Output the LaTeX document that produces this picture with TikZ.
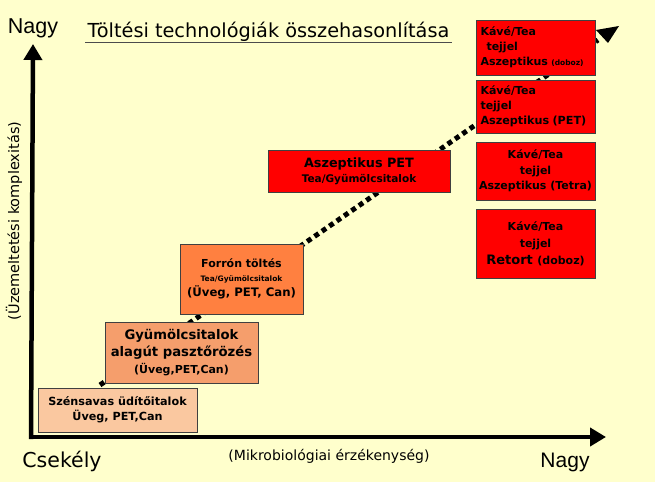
\documentclass[tikz,border=0pt]{standalone}
\usepackage{fontspec}
\setmainfont{DejaVu Sans}
\newfontfamily\arialf{Liberation Sans}
\usetikzlibrary{arrows.meta}
\definecolor{bgyellow}{RGB}{255,255,204}
\definecolor{peach}{RGB}{250,200,160}
\definecolor{salmon}{RGB}{245,158,108}
\definecolor{orangebox}{RGB}{255,128,64}
\definecolor{redbox}{RGB}{255,0,0}
\newcommand{\fs}[1]{\fontsize{#1}{#1}\selectfont}
\tikzset{
  box/.style={draw=black!75, line width=0.7pt, rectangle, inner sep=0pt, align=center, font=\bfseries},
  redb/.style={box, fill=redbox},
  axis/.style={line width=4.5pt, -{Triangle[length=16pt,width=18pt]}},
  trend/.style={line width=5pt, dash pattern=on 5pt off 4pt},
}
\begin{document}
\begin{tikzpicture}[x=1pt,y=-1pt]
\useasboundingbox (0,0) rectangle (660,492);
\fill[bgyellow] (0,0) rectangle (655,482);

% trend line (behind boxes)
\coordinate (ts) at (100,385);
\coordinate (te) at (598,40);
\draw[trend] (ts) -- (te);
\fill (596,30) -- (619,26) -- (608,43) -- cycle;

% axes
\coordinate (orig) at (33,437);
\coordinate (ytop) at (33,44);
\coordinate (xend) at (606,437);
\draw[axis] (31,439.2) -- (ytop);
\draw[axis] (30.8,437) -- (xend);

% axis labels
\node[font=\arialf\fs{21.5}] (nagyy) at (33,28) {Nagy};
\node[font=\fs{20.5}] (csek) at (62,461) {Csekély};
\node[font=\fs{14}] (mikro) at (329,456) {(Mikrobiológiai érzékenység)};
\node[font=\arialf\fs{21}] (nagyx) at (565,462) {Nagy};
\node[font=\fs{14.5}, rotate=90] (uzem) at (14,221) {(Üzemeltetési komplexitás)};

% title
\node[font=\fs{19.3}, anchor=base] (title) at (268.5,37.5) {Töltési technológiák összehasonlítása};
\draw[line width=0.8pt, black!70] (85,42.5) -- (452,42.5);

% boxes
\node[box, fill=peach, minimum width=159pt, minimum height=44pt] (b1) at (117.5,410)
  {\fs{11.2}Szénsavas üdítőitalok\\[3pt]\fs{11.2}Üveg, PET,Can};
\node[box, fill=salmon, minimum width=153pt, minimum height=61pt] (b2) at (181.5,352.5)
  {\fs{13.2}Gyümölcsitalok\\[3pt]\fs{13.2}alagút pasztőrözés\\[3pt]\fs{11}(Üveg,PET,Can)};
\node[box, fill=orangebox, minimum width=123pt, minimum height=70pt] (b3) at (241.5,279)
  {\fs{11}Forrón töltés\\[2pt]\fs{7.5}Tea/Gyümölcsitalok\\[2pt]\fs{11.7}(Üveg, PET, Can)};
\node[redb, minimum width=182pt, minimum height=42pt] (b4) at (359,171)
  {\fs{12.8}Aszeptikus PET\\[3pt]\fs{10.5}Tea/Gyümölcsitalok};
\node[redb, minimum width=119pt, minimum height=55pt, align=left, text width=110pt] (b5) at (535.5,47.5)
  {\fs{11}Kávé/Tea\\[3.5pt]\fs{11}\hspace*{6pt}tejjel\\[3.5pt]\fs{11}Aszeptikus {\fs{7.5}(doboz)}};
\node[redb, minimum width=119pt, minimum height=53pt, align=left, text width=110pt] (b6) at (535.5,106.5)
  {\fs{11}Kávé/Tea\\[3.5pt]\fs{11}tejjel\\[3.5pt]\fs{11.2}Aszeptikus (PET)};
\node[redb, minimum width=119pt, minimum height=58pt] (b7) at (535.5,171)
  {\fs{11}Kávé/Tea\\[3.5pt]\fs{11}tejjel\\[3.5pt]\fs{11}Aszeptikus (Tetra)};
\node[redb, minimum width=119pt, minimum height=69pt] (b8) at (535.5,243.5)
  {\fs{11}Kávé/Tea\\[5pt]\fs{11}tejjel\\[5pt]\fs{13}Retort {\fs{11}(doboz)}};
\end{tikzpicture}
\end{document}
